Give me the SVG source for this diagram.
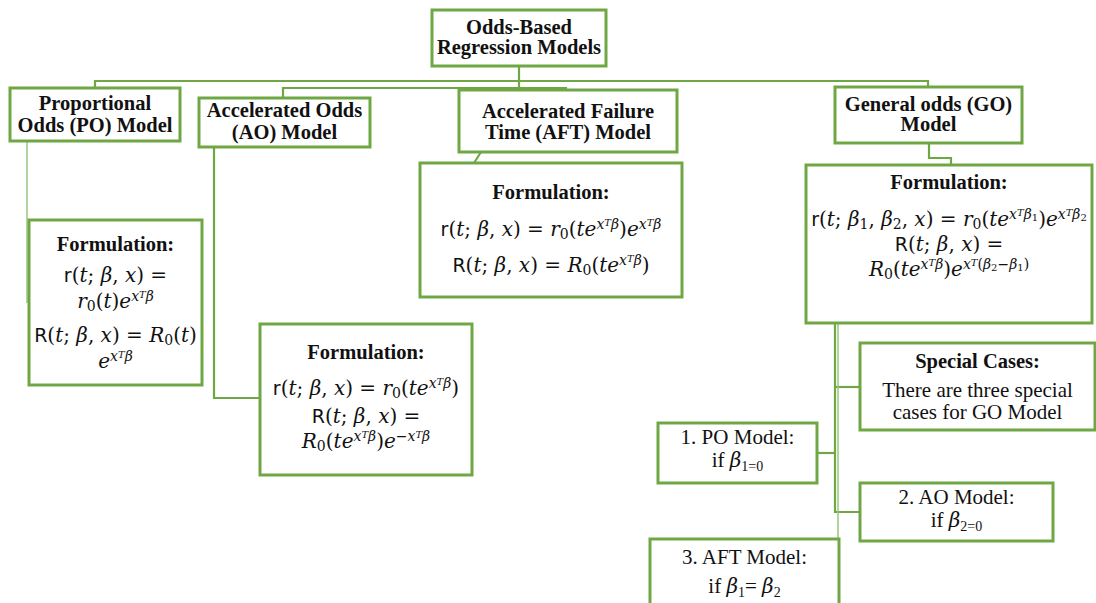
<svg xmlns="http://www.w3.org/2000/svg" width="1096" height="603" viewBox="0 0 1096 603">
  <style>
    .box { fill: #ffffff; stroke: #6fa745; stroke-width: 3; }
    .link { fill: none; stroke: #6fa745; stroke-width: 2.2; }
    .thin { fill: none; stroke: #9cc47e; stroke-width: 1.5; }
    .h { font-family: "Liberation Serif", serif; font-weight: bold; font-size: 20.5px; fill: #111; text-anchor: middle; }
    .t { font-family: "Liberation Serif", serif; font-size: 21px; fill: #111; text-anchor: middle; }
    .m { font-family: "DejaVu Serif", serif; font-size: 20px; fill: #111; text-anchor: middle; }
    .u { font-family: "DejaVu Sans", sans-serif; font-size: 19px; }
    .i { font-style: italic; }
    .sp { font-size: 14px; }
    .ss { font-size: 10px; }
    .sb { font-size: 14px; }
    .gb { font-family: "DejaVu Serif", serif; font-size: 20px; font-style: italic; }
  </style>

  <!-- connectors -->
  <g id="connectors">
    <polyline class="link" points="519,66 519,81"/>
    <polyline class="link" points="95,88 95,81 928,81 928,87"/>
    <polyline class="link" points="283,98 283,88 566,88 566,90"/>
    <line class="link" x1="519" y1="81" x2="519" y2="88"/>
    <line class="thin" x1="27" y1="141" x2="27" y2="303"/>
    <polyline class="link" points="214,147 214,398 260,398"/>
    <line class="link" x1="481" y1="152" x2="474" y2="163"/>
    <polyline class="link" points="929,143 929,158 951,158 951,165"/>
    <polyline class="link" points="835,323 835,512 860,512"/>
    <line class="link" x1="835" y1="387" x2="860" y2="387"/>
    <line class="link" x1="817" y1="453" x2="835" y2="453"/>
    <line class="thin" x1="838" y1="323" x2="838" y2="539"/>
  </g>

  <!-- root -->
  <g id="root">
    <rect class="box" x="432" y="10" width="174" height="56"/>
    <text class="h" x="519" y="34">Odds-Based</text>
    <text class="h" x="519" y="54">Regression Models</text>
  </g>

  <!-- model headers -->
  <g id="po">
    <rect class="box" x="10" y="88" width="170" height="53"/>
    <text class="h" x="95" y="110">Proportional</text>
    <text class="h" x="95" y="132">Odds (PO) Model</text>
  </g>
  <g id="ao">
    <rect class="box" x="199" y="98" width="171" height="49"/>
    <text class="h" x="284.5" y="117">Accelerated Odds</text>
    <text class="h" x="284.5" y="139">(AO) Model</text>
  </g>
  <g id="aft">
    <rect class="box" x="459" y="90" width="218" height="62"/>
    <text class="h" x="568" y="118">Accelerated Failure</text>
    <text class="h" x="568" y="139">Time (AFT) Model</text>
  </g>
  <g id="go">
    <rect class="box" x="835" y="87" width="187" height="56"/>
    <text class="h" x="928.5" y="111">General odds (GO)</text>
    <text class="h" x="928.5" y="131">Model</text>
  </g>

  <!-- formulations -->
  <g id="po-formulation">
    <rect class="box" x="29" y="220" width="173" height="165"/>
    <text class="h" x="115.5" y="251">Formulation:</text>
    <text class="m" x="115.5" y="282"><tspan class="u">r</tspan>(<tspan class="i">t</tspan>; <tspan class="i">β</tspan>, <tspan class="i">x</tspan>) =</text>
    <text class="m" x="115.5" y="308"><tspan class="i">r</tspan><tspan class="sb" dy="3">0</tspan><tspan dy="-3">(</tspan><tspan class="i">t</tspan>)<tspan class="i">e</tspan><tspan class="i sp" dy="-7">x</tspan><tspan class="i ss" dy="-3">T</tspan><tspan class="i sp" dy="3">β</tspan></text>
    <text class="m" x="115.5" y="342"><tspan class="u">R</tspan>(<tspan class="i">t</tspan>; <tspan class="i">β</tspan>, <tspan class="i">x</tspan>) = <tspan class="i">R</tspan><tspan class="sb" dy="3">0</tspan><tspan dy="-3">(</tspan><tspan class="i">t</tspan>)</text>
    <text class="m" x="115.5" y="368"><tspan class="i">e</tspan><tspan class="i sp" dy="-7">x</tspan><tspan class="i ss" dy="-3">T</tspan><tspan class="i sp" dy="3">β</tspan></text>
  </g>
  <g id="ao-formulation">
    <rect class="box" x="260" y="324" width="212" height="151"/>
    <text class="h" x="366" y="359">Formulation:</text>
    <text class="m" x="366" y="395"><tspan class="u">r</tspan>(<tspan class="i">t</tspan>; <tspan class="i">β</tspan>, <tspan class="i">x</tspan>) = <tspan class="i">r</tspan><tspan class="sb" dy="3">0</tspan><tspan dy="-3">(</tspan><tspan class="i">te</tspan><tspan class="i sp" dy="-7">x</tspan><tspan class="i ss" dy="-3">T</tspan><tspan class="i sp" dy="3">β</tspan><tspan dy="7">)</tspan></text>
    <text class="m" x="366" y="423"><tspan class="u">R</tspan>(<tspan class="i">t</tspan>; <tspan class="i">β</tspan>, <tspan class="i">x</tspan>) =</text>
    <text class="m" x="366" y="448"><tspan class="i">R</tspan><tspan class="sb" dy="3">0</tspan><tspan dy="-3">(</tspan><tspan class="i">te</tspan><tspan class="i sp" dy="-7">x</tspan><tspan class="i ss" dy="-3">T</tspan><tspan class="i sp" dy="3">β</tspan><tspan dy="7">)</tspan><tspan class="i">e</tspan><tspan class="sp" dy="-7">−</tspan><tspan class="i sp">x</tspan><tspan class="i ss" dy="-3">T</tspan><tspan class="i sp" dy="3">β</tspan></text>
  </g>
  <g id="aft-formulation">
    <rect class="box" x="420" y="163" width="262" height="134"/>
    <text class="h" x="551" y="199">Formulation:</text>
    <text class="m" x="551" y="236"><tspan class="u">r</tspan>(<tspan class="i">t</tspan>; <tspan class="i">β</tspan>, <tspan class="i">x</tspan>) = <tspan class="i">r</tspan><tspan class="sb" dy="3">0</tspan><tspan dy="-3">(</tspan><tspan class="i">te</tspan><tspan class="i sp" dy="-7">x</tspan><tspan class="i ss" dy="-3">T</tspan><tspan class="i sp" dy="3">β</tspan><tspan dy="7">)</tspan><tspan class="i">e</tspan><tspan class="i sp" dy="-7">x</tspan><tspan class="i ss" dy="-3">T</tspan><tspan class="i sp" dy="3">β</tspan></text>
    <text class="m" x="551" y="272"><tspan class="u">R</tspan>(<tspan class="i">t</tspan>; <tspan class="i">β</tspan>, <tspan class="i">x</tspan>) = <tspan class="i">R</tspan><tspan class="sb" dy="3">0</tspan><tspan dy="-3">(</tspan><tspan class="i">te</tspan><tspan class="i sp" dy="-7">x</tspan><tspan class="i ss" dy="-3">T</tspan><tspan class="i sp" dy="3">β</tspan><tspan dy="7">)</tspan></text>
  </g>
  <g id="go-formulation">
    <rect class="box" x="806" y="165" width="286" height="158"/>
    <text class="h" x="949" y="189">Formulation:</text>
    <text class="m" x="949" y="226"><tspan class="u">r</tspan>(<tspan class="i">t</tspan>; <tspan class="i">β</tspan><tspan class="sb" dy="3">1</tspan><tspan dy="-3">, </tspan><tspan class="i">β</tspan><tspan class="sb" dy="3">2</tspan><tspan dy="-3">, </tspan><tspan class="i">x</tspan>) = <tspan class="i">r</tspan><tspan class="sb" dy="3">0</tspan><tspan dy="-3">(</tspan><tspan class="i">te</tspan><tspan class="i sp" dy="-7">x</tspan><tspan class="i ss" dy="-3">T</tspan><tspan class="i sp" dy="3">β</tspan><tspan class="ss" dy="2">1</tspan><tspan dy="5">)</tspan><tspan class="i">e</tspan><tspan class="i sp" dy="-7">x</tspan><tspan class="i ss" dy="-3">T</tspan><tspan class="i sp" dy="3">β</tspan><tspan class="ss" dy="2">2</tspan></text>
    <text class="m" x="949" y="251"><tspan class="u">R</tspan>(<tspan class="i">t</tspan>; <tspan class="i">β</tspan>, <tspan class="i">x</tspan>) =</text>
    <text class="m" x="949" y="276"><tspan class="i">R</tspan><tspan class="sb" dy="3">0</tspan><tspan dy="-3">(</tspan><tspan class="i">te</tspan><tspan class="i sp" dy="-7">x</tspan><tspan class="i ss" dy="-3">T</tspan><tspan class="i sp" dy="3">β</tspan><tspan dy="7">)</tspan><tspan class="i">e</tspan><tspan class="i sp" dy="-7">x</tspan><tspan class="i ss" dy="-3">T</tspan><tspan class="sp" dy="3">(</tspan><tspan class="i sp">β</tspan><tspan class="ss" dy="2">2</tspan><tspan class="sp" dy="-2">−</tspan><tspan class="i sp">β</tspan><tspan class="ss" dy="2">1</tspan><tspan class="sp" dy="-2">)</tspan></text>
  </g>

  <!-- special cases of the GO model -->
  <g id="special-cases">
    <rect class="box" x="860" y="343" width="235" height="87"/>
    <text class="h" x="977.5" y="368">Special Cases:</text>
    <text class="t" x="977.5" y="397">There are three special</text>
    <text class="t" x="977.5" y="419">cases for GO Model</text>
  </g>
  <g id="case-po">
    <rect class="box" x="658" y="423" width="159" height="60"/>
    <text class="t" x="737.5" y="444">1. PO Model:</text>
    <text class="t" x="737.5" y="467">if <tspan class="gb">β</tspan><tspan class="sb" dy="4">1=0</tspan></text>
  </g>
  <g id="case-ao">
    <rect class="box" x="860" y="483" width="193" height="58"/>
    <text class="t" x="956.5" y="504">2. AO Model:</text>
    <text class="t" x="956.5" y="527">if <tspan class="gb">β</tspan><tspan class="sb" dy="4">2=0</tspan></text>
  </g>
  <g id="case-aft">
    <rect class="box" x="650" y="539" width="189" height="72"/>
    <text class="t" x="744.5" y="564">3. AFT Model:</text>
    <text class="t" x="744.5" y="593">if <tspan class="gb">β</tspan><tspan class="sb" dy="4">1</tspan><tspan dy="-4">= </tspan><tspan class="gb">β</tspan><tspan class="sb" dy="4">2</tspan></text>
  </g>
</svg>
